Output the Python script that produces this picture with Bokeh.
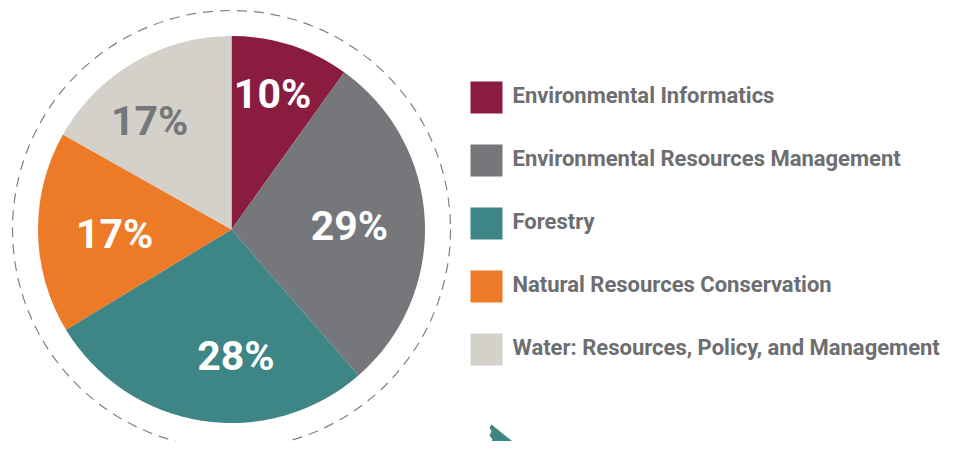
import math
from bokeh.plotting import figure
from bokeh.models import Range1d
from bokeh.core.properties import value
from bokeh.embed import file_html
from bokeh.resources import INLINE

# ---- data ----
categories = ["Environmental Informatics", "Environmental Resources Management",
              "Forestry", "Natural Resources Conservation",
              "Water: Resources, Policy, and Management"]
shares = [10, 29, 28, 17, 17]
labels = ["10%", "29%", "28%", "17%", "17%"]
colors = ["#8a1c40", "#75777b", "#3e8585", "#ec7a26", "#d4d1ca"]
label_colors = ["#ffffff", "#ffffff", "#ffffff", "#ffffff", "#75777b"]
# label placement (polar, degrees clockwise from top, px from centre)
label_deg = [16.8, 88.5, 178.0, 268.0, 323.0]
label_rad = [142, 118, 127, 117, 136]

FONT = "Roboto, Lato, sans-serif"

# ---- layout (page pixel frame) ----
W, H = 957, 441
PAGE_H = 449
def py(y):  # page y -> data y
    return PAGE_H - y

p = figure(width=W, height=H, output_backend="svg", toolbar_location=None,
           x_range=Range1d(0, W), y_range=Range1d(PAGE_H - H, PAGE_H),
           min_border=0)
p.axis.visible = False
p.grid.visible = False
p.outline_line_color = None
p.background_fill_color = "white"

cx, cy, R = 231, py(229), 193.5

# dashed outer ring
p.circle(x=[cx], y=[cy], radius=219, fill_color=None, line_color="#808080",
         line_width=1.2, line_dash="10 7")

total = float(sum(shares))
cum = 0.0
starts, ends = [], []
for s in shares:
    a0 = math.pi / 2 - cum / total * 2 * math.pi
    cum += s
    a1 = math.pi / 2 - cum / total * 2 * math.pi
    starts.append(a0)
    ends.append(a1)

p.wedge(x=[cx] * len(shares), y=[cy] * len(shares), radius=R,
        start_angle=starts, end_angle=ends, direction="clock",
        fill_color=colors, line_color=None)

lx = [cx + r * math.sin(math.radians(d)) for d, r in zip(label_deg, label_rad)]
ly = [cy + r * math.cos(math.radians(d)) for d, r in zip(label_deg, label_rad)]
p.text(x=lx, y=ly, text=labels, text_color=label_colors,
       text_font=value(FONT),
       text_font_style="bold", text_font_size="41px",
       text_align="center", text_baseline="middle")

# legend
leg_y = [py(97 + 63 * i) for i in range(len(categories))]
p.rect(x=[486] * len(categories), y=leg_y, width=32, height=32,
       fill_color=colors, line_color=None)
p.text(x=[512] * len(categories), y=[v + 2 for v in leg_y], text=categories,
       text_color="#6d6e71",
       text_font=value(FONT),
       text_font_style="bold", text_font_size="22px",
       text_align="left", text_baseline="middle")

# decorative teal arrow fragment at bottom
arrow_x = [491, 522, 491, 490, 492, 489, 491, 489]
arrow_y = [424, 449, 449, 444, 439, 435, 431, 427]
p.patch(x=arrow_x, y=[py(v) for v in arrow_y], fill_color="#3e8585", line_color=None)

open("out.html", "w").write(file_html(p, INLINE))
